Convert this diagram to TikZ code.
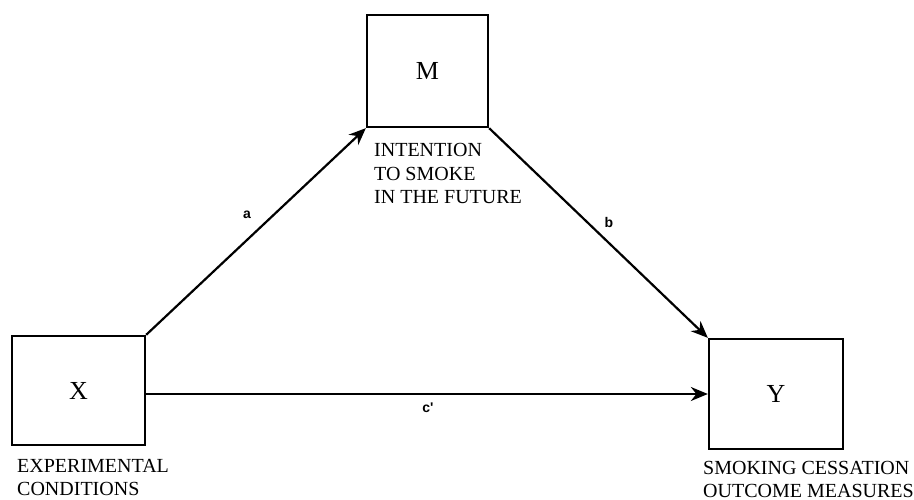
\documentclass[tikz,border=0pt]{standalone}
\usepackage{fontspec}
\setmainfont{Liberation Serif}
\newfontfamily\lblsans{Liberation Sans}
\usetikzlibrary{arrows.meta}
\begin{document}
\begin{tikzpicture}[x=1pt,y=-1pt,
  varbox/.style={draw,line width=2.3pt,inner sep=0pt,font=\fontsize{26}{30}\selectfont},
  caption/.style={anchor=base west,inner sep=0pt,font=\fontsize{20}{24}\selectfont},
  path/.style={line width=2.2pt,-{Stealth[length=17pt,width=14pt]}},
  coef/.style={inner sep=0pt,font=\lblsans\bfseries\fontsize{14}{16}\selectfont}]
\useasboundingbox (0,0) rectangle (914,500);
\node[varbox,minimum width=121pt,minimum height=112pt] (M) at (427.5,71) {M};
\node[varbox,minimum width=133pt,minimum height=109pt] (X) at (78.5,390.5) {X};
\node[varbox,minimum width=134pt,minimum height=110pt] (Y) at (776,394) {Y};
\draw[path] (X.north east) -- (M.south west);
\draw[path] (M.south east) -- (Y.north west);
\draw[path] (Y.west -| X.east) -- (Y.west);
\node[coef] (la) at (247,215) {a};
\node[coef] (lb) at (609,222) {b};
\node[coef] (lc) at (428,408) {c'};
\node[caption] (m1) at (374,157) {INTENTION};
\node[caption] (m2) at (374,180.5) {TO SMOKE};
\node[caption] (m3) at (374,204) {IN THE FUTURE};
\node[caption] (x1) at (17,472) {EXPERIMENTAL};
\node[caption] (x2) at (17,495) {CONDITIONS};
\node[caption] (y1) at (703,474) {SMOKING CESSATION};
\node[caption] (y2) at (703,497) {OUTCOME MEASURES};
\end{tikzpicture}
\end{document}
